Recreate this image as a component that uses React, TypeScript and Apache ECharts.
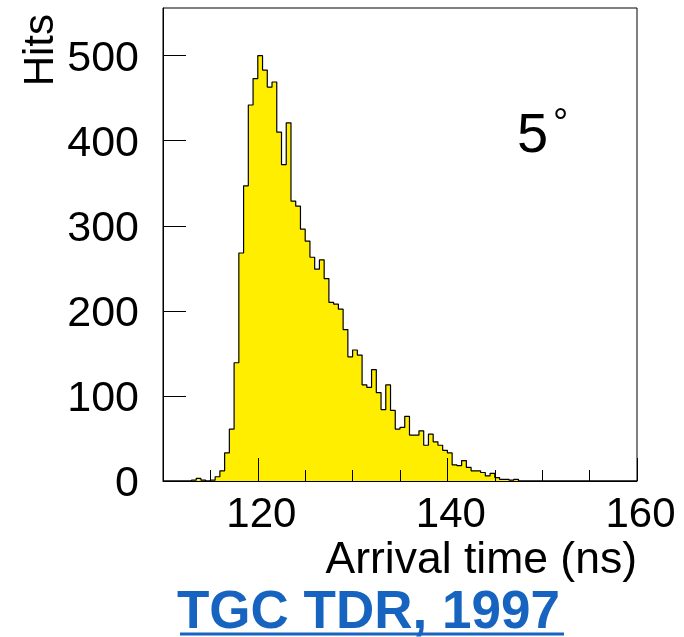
import React, { useEffect, useRef } from 'react';
import * as echarts from 'echarts';

// Histogram: bin start (ns), bin width (ns), counts per bin
const binStart = 110;
const binWidth = 0.5;
const counts = [
  0, 0, 0, 0, 0, 0, 1, 3, 1, 0,
  1, 5, 12, 33, 61, 139, 268, 347, 442, 473,
  500, 483, 463, 469, 410, 372, 421, 329, 323, 296,
  282, 263, 249, 260, 238, 210, 208, 202, 178, 146,
  154, 148, 113, 110, 131, 104, 84, 113, 83, 61,
  63, 76, 54, 54, 59, 42, 55, 46, 42, 36,
  33, 19, 18, 24, 16, 12, 12, 10, 6, 9,
  4, 2, 2, 1, 2, 0, 0, 0, 0, 0,
  0, 0, 0, 0, 0, 0, 0, 0, 0, 0,
  0, 0, 0, 0, 0, 0, 0, 0, 0, 0,
];
const xMin = 110;
const xMax = 160;
const yMin = 0;
const yMax = 556;
const xMajorTicks = [120, 140, 160];
const xMinorTicks = [115, 125, 130, 135, 145, 150, 155];
const yTicks = [0, 100, 200, 300, 400, 500];

const FONT = "'Liberation Sans', Arial, Helvetica, sans-serif";
const BLUE = '#1764C0';

export default function App() {
  const ref = useRef<HTMLDivElement>(null);
  useEffect(() => {
    const chart = echarts.init(ref.current!, null, { renderer: 'svg' });
    const data = counts.map((c, i) => [binStart + i * binWidth, c]);
    data.push([binStart + counts.length * binWidth, counts[counts.length - 1]]);
    chart.setOption({
      animation: false,
      grid: {
        left: 163, top: 8, width: 474, height: 473,
        show: true, borderColor: '#000', borderWidth: 1,
        backgroundColor: 'transparent',
        outerBoundsMode: 'none', containLabel: false,
      },
      xAxis: [
        {
          type: 'value', min: xMin, max: xMax, z: 10, position: 'bottom',
          axisLine: { show: true, onZero: false, lineStyle: { color: '#000', width: 1 } },
          splitLine: { show: false },
          axisTick: { show: true, inside: true, length: 23, customValues: xMajorTicks, lineStyle: { color: '#000', width: 1 } },
          axisLabel: { show: true, customValues: xMajorTicks, fontSize: 42, fontFamily: FONT, color: '#000', margin: 10, padding: [0, 0, 0, 7] },
        },
        {
          type: 'value', min: xMin, max: xMax, z: 10, position: 'bottom',
          axisLine: { show: false },
          splitLine: { show: false },
          axisTick: { show: true, inside: true, length: 11, customValues: xMinorTicks, lineStyle: { color: '#000', width: 1 } },
          axisLabel: { show: false },
        },
      ],
      yAxis: {
        type: 'value', min: yMin, max: yMax, z: 10,
        axisLine: { show: true, onZero: false, lineStyle: { color: '#000', width: 1 } },
        splitLine: { show: false },
        axisTick: { show: true, inside: true, length: 23, customValues: yTicks, lineStyle: { color: '#000', width: 1 } },
        axisLabel: { show: true, customValues: yTicks, fontSize: 43, fontFamily: FONT, color: '#000', margin: 24 },
      },
      series: [
        {
          type: 'line', xAxisIndex: 0, yAxisIndex: 0,
          data, step: 'end', symbol: 'none',
          lineStyle: { color: '#000', width: 1.2 },
          areaStyle: { color: '#FFEE00', opacity: 1 },
          z: 2,
        },
      ],
      graphic: [
        {
          type: 'text', x: 38, y: 14, rotation: Math.PI / 2,
          style: { text: 'Hits', font: `42px ${FONT}`, fill: '#000', align: 'right', textAlign: 'right', verticalAlign: 'middle', textVerticalAlign: 'middle' },
        },
        {
          type: 'text', x: 637, y: 557,
          style: { text: 'Arrival time (ns)', font: `44.5px ${FONT}`, fill: '#000', align: 'right', textAlign: 'right', verticalAlign: 'middle', textVerticalAlign: 'middle' },
        },
        {
          type: 'text', x: 517, y: 132,
          style: { text: '5', font: `56px ${FONT}`, fill: '#000', align: 'left', textAlign: 'left', verticalAlign: 'middle', textVerticalAlign: 'middle' },
        },
        {
          type: 'text', x: 553, y: 122,
          style: { text: '°', font: `38px ${FONT}`, fill: '#000', align: 'left', textAlign: 'left', verticalAlign: 'middle', textVerticalAlign: 'middle' },
        },
        {
          type: 'text', x: 177, y: 609,
          style: { text: 'TGC TDR, 1997', font: `bold 53px ${FONT}`, fill: BLUE, align: 'left', textAlign: 'left', verticalAlign: 'middle', textVerticalAlign: 'middle' },
        },
        {
          type: 'line',
          shape: { x1: 180, y1: 634, x2: 564, y2: 634 },
          style: { stroke: BLUE, lineWidth: 3 },
        },
      ],
    });
    return () => chart.dispose();
  }, []);
  return <div ref={ref} style={{ position: 'fixed', left: 0, top: 0, width: 684, height: 637 }} />;
}
